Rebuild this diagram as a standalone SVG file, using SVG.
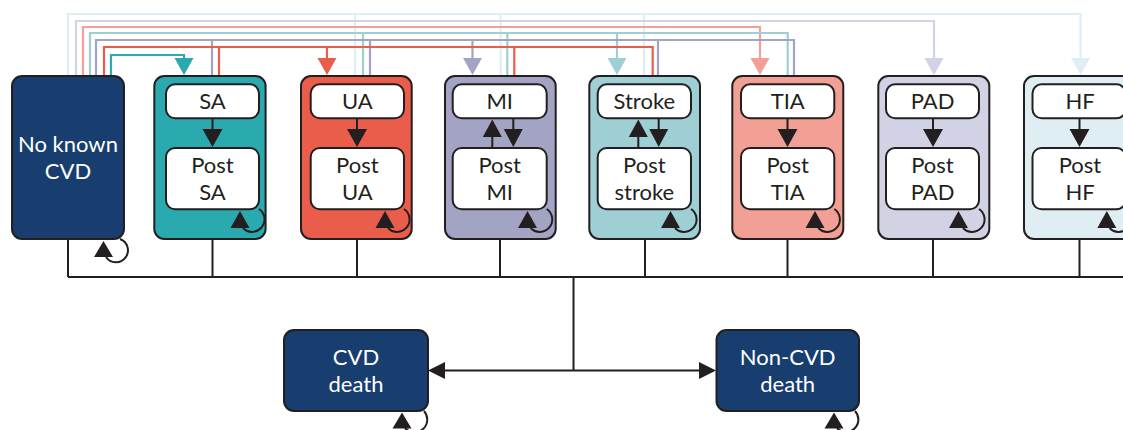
<svg xmlns="http://www.w3.org/2000/svg" width="1123" height="430" viewBox="0 0 1123 430">
<style>
.t{font-family:Lato,"Liberation Sans",sans-serif;font-size:22px;text-anchor:middle;fill:#231f20}
.w{fill:#ffffff}
.ob{stroke:#231f20;stroke-width:2}
.ib{fill:#ffffff;stroke:#231f20;stroke-width:2}
.k{stroke:#231f20;stroke-width:2;fill:none}
.ah{fill:#231f20}
.c{fill:none;stroke-width:2.2}
.sa{stroke:#2aa9ae}.ua{stroke:#ea5d4b}.mi{stroke:#a3a3c4}.st{stroke:#9dcfd4}.ti{stroke:#f29f95}.pa{stroke:#d1d2e4}.hf{stroke:#dfeef2}
</style>
<g id="connectors">
  <!-- HF (y=14) -->
  <path class="c hf" d="M68 76V14H1080.5V58M355 76V14M500.7 76V14M644 76V14"/>
  <polygon points="1071,58 1090,58 1080.5,75" fill="#dfeef2"/>
  <!-- PAD (y=21) -->
  <path class="c pa" d="M76 76V21H934V58"/>
  <polygon points="924.5,58 943.5,58 934,75" fill="#d1d2e4"/>
  <!-- TIA (y=27) -->
  <path class="c ti" d="M83 76V27H760V58"/>
  <polygon points="750.5,58 769.5,58 760,75" fill="#f29f95"/>
  <!-- Stroke (y=33) -->
  <path class="c st" d="M90 76V33H787.7V76M363 76V33M507.3 76V33M617 33V58"/>
  <polygon points="607.5,58 626.5,58 617,75" fill="#9dcfd4"/>
  <!-- MI (y=40) -->
  <path class="c mi" d="M96 76V40H794V76M212 76V40M370 76V40M658 76V40M472.5 40V58"/>
  <polygon points="463,58 482,58 472.5,75" fill="#a3a3c4"/>
  <!-- UA (y=47) -->
  <path class="c ua" d="M104 76V47H652.7V76M219 76V47M514.3 76V47M327 47V58"/>
  <polygon points="317.5,58 336.5,58 327,75" fill="#ea5d4b"/>
  <!-- SA (y=55) -->
  <path class="c sa" d="M111 76V55H184V58"/>
  <polygon points="174.5,58 193.5,58 184,75" fill="#2aa9ae"/>
  <!-- bus to deaths -->
  <path class="k" d="M68 239V277M212.5 239V277M357 239V277M500 239V277M645 239V277M787.5 239V277M933 239V277M1079.5 239V277M68 277H1123M573.5 277V370.5M444 370.5H699"/>
  <polygon class="ah" points="428,370.5 445,362 445,379"/>
  <polygon class="ah" points="716,370.5 699,362 699,379"/>
</g>
<g id="nokcvd">
  <rect class="ob" x="12" y="76" width="112" height="163" rx="10" fill="#173e6f"/>
  <text class="t w" x="68" y="151.5">No known</text>
  <text class="t w" x="68" y="178.5">CVD</text>
  <path class="k" d="M120 239A12 12 0 1 1 106 257"/>
  <polygon class="ah" points="94,257 113,257 103.5,241"/>
</g>
<g id="sa">
  <rect class="ob" x="154.3" y="76" width="111.3" height="163" rx="10" fill="#2aa9ae"/>
  <rect class="ib" x="166" y="84.3" width="93" height="34" rx="9"/>
  <rect class="ib" x="166" y="148" width="93" height="61.3" rx="9"/>
  <text class="t" x="212.5" y="109">SA</text>
  <text class="t" x="212.5" y="172.5">Post</text>
  <text class="t" x="212.5" y="199.5">SA</text>
  <path class="k" d="M212.5 118.3V130"/>
  <polygon class="ah" points="202.5,129 222.5,129 212.5,147"/>
  <path class="k" d="M259 209A12.5 12.5 0 1 1 243 228"/>
  <polygon class="ah" points="230.5,228 249.5,228 240,211"/>
</g>
<g id="ua">
  <rect class="ob" x="301" y="76" width="110.7" height="163" rx="10" fill="#ea5d4b"/>
  <rect class="ib" x="310.7" y="84.3" width="93.3" height="34" rx="9"/>
  <rect class="ib" x="310.7" y="148" width="93.3" height="61.3" rx="9"/>
  <text class="t" x="357.3" y="109">UA</text>
  <text class="t" x="357.3" y="172.5">Post</text>
  <text class="t" x="357.3" y="199.5">UA</text>
  <path class="k" d="M357 118.3V130"/>
  <polygon class="ah" points="347,129 367,129 357,147"/>
  <path class="k" d="M404 209A12.5 12.5 0 1 1 388 228"/>
  <polygon class="ah" points="375.5,228 394.5,228 385,211"/>
</g>
<g id="mi">
  <rect class="ob" x="445" y="76" width="110.7" height="163" rx="10" fill="#a3a3c4"/>
  <rect class="ib" x="452.7" y="84.3" width="94" height="34" rx="9"/>
  <rect class="ib" x="452.7" y="148" width="94" height="61.3" rx="9"/>
  <text class="t" x="499.7" y="109">MI</text>
  <text class="t" x="499.7" y="172.5">Post</text>
  <text class="t" x="499.7" y="199.5">MI</text>
  <path class="k" d="M492.3 148V136M513.3 118.3V130"/>
  <polygon class="ah" points="482.8,137 501.8,137 492.3,119.5"/>
  <polygon class="ah" points="503.8,129 522.8,129 513.3,147"/>
  <path class="k" d="M546.7 209A12.5 12.5 0 1 1 530.7 228"/>
  <polygon class="ah" points="518,228 537,228 527.5,211"/>
</g>
<g id="stroke">
  <rect class="ob" x="589.3" y="76" width="110.7" height="163" rx="10" fill="#9dcfd4"/>
  <rect class="ib" x="597.7" y="84.3" width="93.3" height="34" rx="9"/>
  <rect class="ib" x="597.7" y="148" width="93.3" height="61.3" rx="9"/>
  <text class="t" x="644.3" y="109">Stroke</text>
  <text class="t" x="644.3" y="172.5">Post</text>
  <text class="t" x="644.3" y="199.5">stroke</text>
  <path class="k" d="M638.3 148V136M658.7 118.3V130"/>
  <polygon class="ah" points="628.8,137 647.8,137 638.3,119.5"/>
  <polygon class="ah" points="649.2,129 668.2,129 658.7,147"/>
  <path class="k" d="M691 209A12.5 12.5 0 1 1 675 228"/>
  <polygon class="ah" points="661,228 680,228 670.5,211"/>
</g>
<g id="tia">
  <rect class="ob" x="732.3" y="76" width="111" height="163" rx="10" fill="#f29f95"/>
  <rect class="ib" x="741" y="84.3" width="93.3" height="34" rx="9"/>
  <rect class="ib" x="741" y="148" width="93.3" height="61.3" rx="9"/>
  <text class="t" x="787.7" y="109">TIA</text>
  <text class="t" x="787.7" y="172.5">Post</text>
  <text class="t" x="787.7" y="199.5">TIA</text>
  <path class="k" d="M787.5 118.3V130"/>
  <polygon class="ah" points="777.5,129 797.5,129 787.5,147"/>
  <path class="k" d="M834.3 209A12.5 12.5 0 1 1 818.3 228"/>
  <polygon class="ah" points="805.5,228 824.5,228 815,211"/>
</g>
<g id="pad">
  <rect class="ob" x="878.3" y="76" width="111" height="163" rx="10" fill="#d1d2e4"/>
  <rect class="ib" x="886" y="84.3" width="93" height="34" rx="9"/>
  <rect class="ib" x="886" y="148" width="93" height="61.3" rx="9"/>
  <text class="t" x="932.5" y="109">PAD</text>
  <text class="t" x="932.5" y="172.5">Post</text>
  <text class="t" x="932.5" y="199.5">PAD</text>
  <path class="k" d="M933 118.3V130"/>
  <polygon class="ah" points="923,129 943,129 933,147"/>
  <path class="k" d="M979 209A12.5 12.5 0 1 1 963 228"/>
  <polygon class="ah" points="949,228 968,228 958.5,211"/>
</g>
<g id="hf">
  <rect class="ob" x="1024" y="76" width="111" height="163" rx="10" fill="#dfeef2"/>
  <rect class="ib" x="1032.5" y="84.3" width="93" height="34" rx="9"/>
  <rect class="ib" x="1032.5" y="148" width="93" height="61.3" rx="9"/>
  <text class="t" x="1080" y="109">HF</text>
  <text class="t" x="1080" y="172.5">Post</text>
  <text class="t" x="1080" y="199.5">HF</text>
  <path class="k" d="M1079.5 118.3V130"/>
  <polygon class="ah" points="1069.5,129 1089.5,129 1079.5,147"/>
  <path class="k" d="M1125.5 209A12.5 12.5 0 1 1 1109.5 228"/>
  <polygon class="ah" points="1097.3,228 1116.3,228 1106.8,211"/>
</g>
<g id="cvddeath">
  <rect class="ob" x="284" y="330" width="144" height="81" rx="10" fill="#173e6f"/>
  <text class="t w" x="356" y="365">CVD</text>
  <text class="t w" x="356" y="391.5">death</text>
  <path class="k" d="M424 411A12 12 0 1 1 405 428"/>
  <polygon class="ah" points="392.5,428.5 411.5,428.5 402,412.5"/>
</g>
<g id="noncvddeath">
  <rect class="ob" x="716.5" y="330" width="142.5" height="81" rx="10" fill="#173e6f"/>
  <text class="t w" x="787.7" y="365">Non-CVD</text>
  <text class="t w" x="787.7" y="391.5">death</text>
  <path class="k" d="M855 411A12 12 0 1 1 837 428"/>
  <polygon class="ah" points="824.5,428.5 843.5,428.5 834,412.5"/>
</g>
</svg>
